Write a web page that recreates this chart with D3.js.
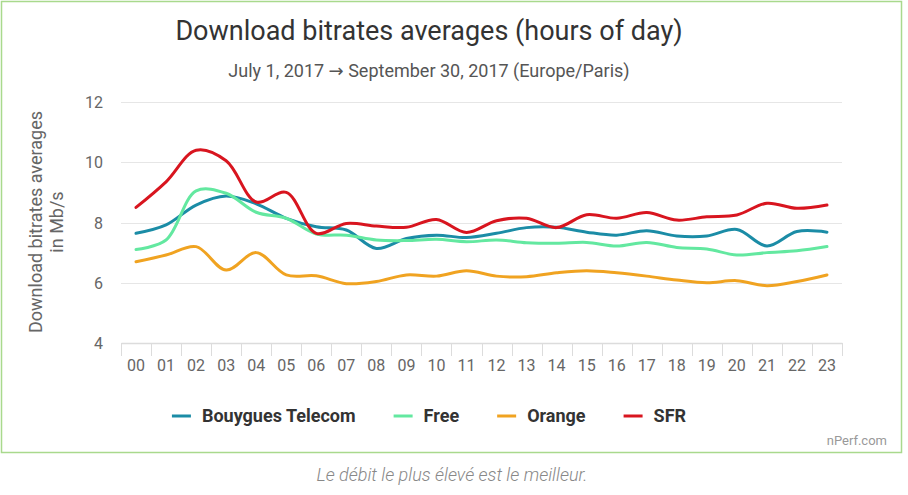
<!DOCTYPE html>
<html>
<head>
<meta charset="utf-8">
<script src="https://cdn.jsdelivr.net/npm/d3@7"></script>
<style>
  body { margin: 0; background: #fff; }
  svg { display: block; font-family: Roboto, sans-serif; }
</style>
</head>
<body>
<div id="chart"></div>
<script>
const hours = ["00","01","02","03","04","05","06","07","08","09","10","11",
  "12","13","14","15","16","17","18","19","20","21","22","23"];

const bouygues = [7.64, 7.92, 8.58, 8.88, 8.62, 8.14, 7.86, 7.75, 7.14, 7.47, 7.58, 7.5,
  7.64, 7.83, 7.84, 7.68, 7.58, 7.73, 7.55, 7.55, 7.77, 7.22, 7.7, 7.68];
const free = [7.1, 7.42, 9.05, 8.97, 8.34, 8.14, 7.62, 7.58, 7.42, 7.4, 7.44, 7.36,
  7.42, 7.33, 7.31, 7.34, 7.22, 7.34, 7.17, 7.12, 6.92, 7.0, 7.06, 7.2];
const orange = [6.7, 6.92, 7.2, 6.42, 7.0, 6.26, 6.23, 5.97, 6.04, 6.26, 6.22, 6.4,
  6.22, 6.2, 6.33, 6.4, 6.33, 6.22, 6.09, 6.0, 6.07, 5.9, 6.04, 6.26];
const sfr = [8.5, 9.35, 10.4, 10.05, 8.68, 9.0, 7.64, 7.97, 7.88, 7.84, 8.1, 7.67,
  8.06, 8.14, 7.83, 8.26, 8.14, 8.33, 8.08, 8.19, 8.25, 8.64, 8.47, 8.58];

const seriesNames = ["Bouygues Telecom", "Free", "Orange", "SFR"];
const seriesValues = [bouygues, free, orange, sfr];
const seriesColours = ["#1b8ca6", "#63e8a0", "#f0a321", "#d8151f"];

const yTicks = [4, 6, 8, 10, 12];

const w = 908;
const h = 495;
const plot = { left: 121, right: 842, top: 102, bottom: 343 };

const svg = d3.select("#chart").append("svg").attr("width", w).attr("height", h);

// frame
svg.append("rect")
  .attr("x", 1.5).attr("y", 1.5)
  .attr("width", 900).attr("height", 451)
  .attr("fill", "#fff")
  .attr("stroke", "#a9d98d")
  .attr("stroke-width", 1.5);

svg.append("text")
  .attr("x", 429).attr("y", 40)
  .attr("text-anchor", "middle")
  .attr("font-size", 27)
  .attr("fill", "#333")
  .text("Download bitrates averages (hours of day)");

const subtitle = svg.append("text")
  .attr("x", 429).attr("y", 77)
  .attr("text-anchor", "middle")
  .attr("font-size", 18)
  .attr("fill", "#555");
subtitle.append("tspan").text("July 1, 2017 ");
subtitle.append("tspan").attr("font-family", "'DejaVu Sans', sans-serif").text("\u2192");
subtitle.append("tspan").text(" September 30, 2017 (Europe/Paris)");

const xScale = d3.scaleBand().domain(hours).range([plot.left, plot.right]);
const yScale = d3.scaleLinear().domain([4, 12]).range([plot.bottom, plot.top]);

// grid lines
svg.append("g")
  .selectAll("line")
  .data(yTicks.filter((d) => d > 4))
  .enter()
  .append("line")
  .attr("x1", plot.left)
  .attr("x2", plot.right)
  .attr("y1", (d) => Math.round(yScale(d)) + 0.5)
  .attr("y2", (d) => Math.round(yScale(d)) + 0.5)
  .attr("stroke", "#e6e6e6");

// y axis labels
svg.append("g")
  .selectAll("text")
  .data(yTicks)
  .enter()
  .append("text")
  .attr("x", 103)
  .attr("y", (d) => yScale(d) + 6)
  .attr("text-anchor", "end")
  .attr("font-size", 16)
  .attr("fill", "#666")
  .text((d) => d);

const yTitle = svg.append("text")
  .attr("transform", "translate(0," + 222 + ") rotate(-90)")
  .attr("text-anchor", "middle")
  .attr("font-size", 18)
  .attr("fill", "#666");
yTitle.append("tspan").attr("x", 0).attr("y", 42).text("Download bitrates averages");
yTitle.append("tspan").attr("x", 0).attr("y", 63).text("in Mb/s");

// x axis
const xAxis = d3.axisBottom(xScale).tickSize(0).tickPadding(17);
const gx = svg.append("g")
  .attr("transform", "translate(0," + plot.bottom + ")")
  .call(xAxis);
gx.select(".domain").attr("stroke", "#dcdcdc").attr("stroke-width", 1.5);
gx.selectAll("text")
  .attr("font-family", "Roboto, sans-serif")
  .attr("font-size", 16)
  .attr("fill", "#666");
gx.selectAll(".tickmark")
  .data(hours.concat(["end"]))
  .enter()
  .append("line")
  .attr("x1", (d, i) => Math.round(plot.left + i * xScale.bandwidth()) + 0.5)
  .attr("x2", (d, i) => Math.round(plot.left + i * xScale.bandwidth()) + 0.5)
  .attr("y1", 0)
  .attr("y2", 13)
  .attr("stroke", "#dcdcdc");

// lines
const line = d3.line()
  .x((d, i) => xScale(hours[i]) + xScale.bandwidth() / 2)
  .y((d) => yScale(d))
  .curve(d3.curveCatmullRom.alpha(0.5));

svg.append("g")
  .selectAll("path")
  .data(seriesValues)
  .enter()
  .append("path")
  .attr("d", line)
  .attr("fill", "none")
  .attr("stroke", (d, i) => seriesColours[i])
  .attr("stroke-width", 3)
  .attr("stroke-linejoin", "round")
  .attr("stroke-linecap", "round");

// legend
const legend = svg.append("g");
let lx = 0;
seriesNames.forEach((name, i) => {
  const item = legend.append("g").attr("transform", "translate(" + lx + ",0)");
  item.append("line")
    .attr("x1", 0).attr("x2", 19)
    .attr("y1", 0).attr("y2", 0)
    .attr("stroke", seriesColours[i])
    .attr("stroke-width", 3);
  const t = item.append("text")
    .attr("x", 30).attr("y", 6)
    .attr("font-size", 18)
    .attr("font-weight", "bold")
    .attr("fill", "#333")
    .text(name);
  lx += 30 + t.node().getComputedTextLength() + 38;
});
const legendWidth = lx - 38;
legend.attr("transform", "translate(" + (429 - legendWidth / 2) + ",416)");

svg.append("text")
  .attr("x", 887).attr("y", 445)
  .attr("text-anchor", "end")
  .attr("font-size", 13)
  .attr("fill", "#999")
  .text("nPerf.com");

svg.append("text")
  .attr("x", 452).attr("y", 481)
  .attr("text-anchor", "middle")
  .attr("font-size", 18)
  .attr("font-style", "italic")
  .attr("font-weight", 300)
  .attr("fill", "#888")
  .text("Le d\u00e9bit le plus \u00e9lev\u00e9 est le meilleur.");
</script>
</body>
</html>
